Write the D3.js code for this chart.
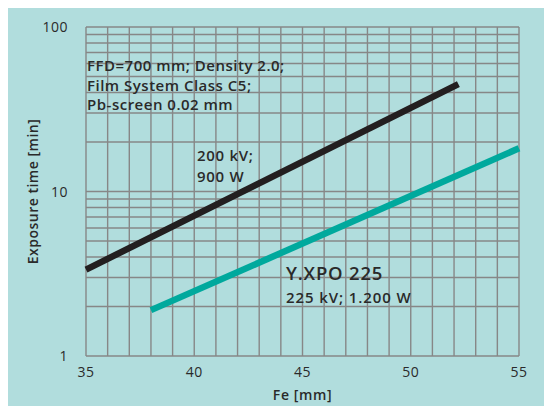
<!DOCTYPE html>
<html lang="en">
<head>
<meta charset="UTF-8">
<title>Exposure time vs Fe</title>
<script src="https://d3js.org/d3.v7.min.js"></script>
<style>
  body { margin: 0; background: #fff; }
  text { font-family: "Open Sans", sans-serif; fill: #2a2a2a; }
</style>
</head>
<body>
<div id="chart"></div>
<script>

// dimensions of the picture
const width = 544;
const height = 406;
const margin = { top: 27, right: 25, bottom: 50, left: 86 };

// data
const xTicks = [35, 40, 45, 50, 55];
const yTicks = [1, 10, 100];
const tubeFe = [35, 52.2];          // 200 kV; 900 W
const tubeTime = [3.35, 45];
const xpoFe = [38, 55];             // Y.XPO 225
const xpoTime = [1.9, 18.3];

const svg = d3.select("#chart")
  .append("svg")
    .attr("width", width)
    .attr("height", height);

// teal background
svg.append("rect")
  .attr("x", 8).attr("y", 8)
  .attr("width", width - 8).attr("height", height - 8)
  .attr("fill", "#b1dddd");

const x = d3.scaleLinear()
  .domain([35, 55])
  .range([margin.left, width - margin.right]);

const y = d3.scaleLog()
  .domain([1, 100])
  .range([height - margin.bottom, margin.top]);

// grid: every millimetre and every log step
const grid = svg.append("g")
  .attr("stroke", "#878787")
  .attr("stroke-width", 1.4);

grid.selectAll(".vline")
  .data(d3.range(35, 56))
  .enter().append("line")
    .attr("x1", d => x(d)).attr("x2", d => x(d))
    .attr("y1", y(1)).attr("y2", y(100));

grid.selectAll(".hline")
  .data(y.ticks())
  .enter().append("line")
    .attr("x1", x(35)).attr("x2", x(55))
    .attr("y1", d => y(d)).attr("y2", d => y(d));

// axes labels
svg.selectAll(".xtick")
  .data(xTicks)
  .enter().append("text")
    .attr("x", d => x(d))
    .attr("y", y(1) + 21)
    .attr("text-anchor", "middle")
    .style("font-size", "14px")
    .style("letter-spacing", "0.5px")
    .text(d => d);

svg.selectAll(".ytick")
  .data(yTicks)
  .enter().append("text")
    .attr("x", margin.left - 18)
    .attr("y", d => y(d) + 5)
    .attr("text-anchor", "end")
    .style("font-size", "14px")
    .style("letter-spacing", "0.5px")
    .text(d => d);

svg.append("text")
  .attr("x", (x(35) + x(55)) / 2)
  .attr("y", 400)
  .attr("text-anchor", "middle")
  .style("font-size", "14px")
  .style("font-weight", 600)
  .style("letter-spacing", "0.6px")
  .text("Fe [mm]");

svg.append("text")
  .attr("transform", "translate(38," + (y(1) + y(100)) / 2 + ") rotate(-90)")
  .attr("text-anchor", "middle")
  .style("font-size", "14px")
  .style("font-weight", 600)
  .style("letter-spacing", "0.5px")
  .text("Exposure time [min]");

// curves
const line = d3.line()
  .x(d => x(d[0]))
  .y(d => y(d[1]));

svg.append("path")
  .datum(d3.zip(tubeFe, tubeTime))
  .attr("d", line)
  .attr("fill", "none")
  .attr("stroke", "#231f20")
  .attr("stroke-width", 6.5);

svg.append("path")
  .datum(d3.zip(xpoFe, xpoTime))
  .attr("d", line)
  .attr("fill", "none")
  .attr("stroke", "#00a99d")
  .attr("stroke-width", 6.5);

// annotations
const note = svg.append("text")
  .style("font-size", "15px")
  .style("font-weight", 600)
  .style("letter-spacing", "0.5px");
["FFD=700 mm; Density 2.0;", "Film System Class C5;", "Pb-screen 0.02 mm"].forEach((t, i) => {
  note.append("tspan").attr("x", 87).attr("y", 71 + i * 19.5).text(t);
});

const tube = svg.append("text")
  .style("font-size", "15px")
  .style("font-weight", 600)
  .style("letter-spacing", "0.7px");
["200 kV;", "900 W"].forEach((t, i) => {
  tube.append("tspan").attr("x", 197).attr("y", 161 + i * 21).text(t);
});

svg.append("text")
  .attr("x", 286).attr("y", 280)
  .style("font-size", "18.5px")
  .style("font-weight", 600)
  .style("letter-spacing", "0.8px")
  .text("Y.XPO 225");

svg.append("text")
  .attr("x", 286).attr("y", 303)
  .style("font-size", "15px")
  .style("font-weight", 600)
  .style("letter-spacing", "0.9px")
  .text("225 kV; 1.200 W");

</script>
</body>
</html>
